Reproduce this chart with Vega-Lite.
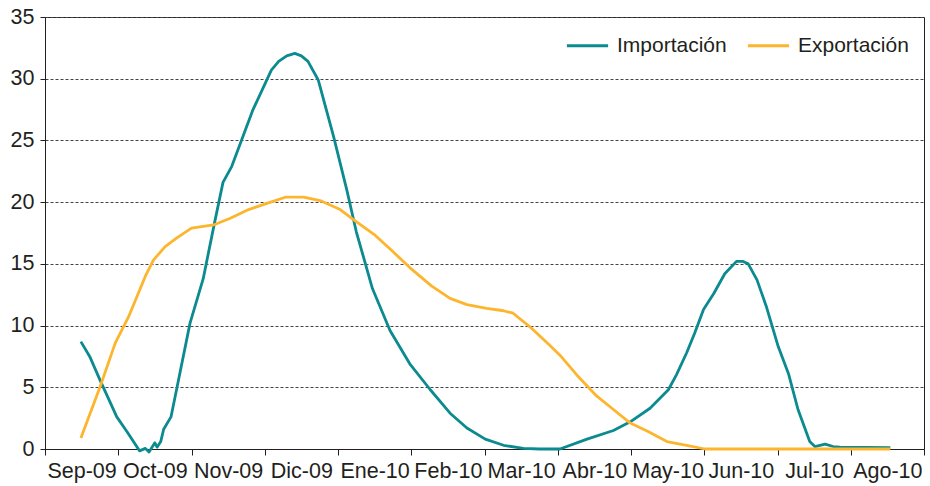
{
  "$schema": "https://vega.github.io/schema/vega-lite/v6.json",
  "width": 879,
  "height": 432,
  "autosize": "none",
  "padding": {"left": 45, "top": 17, "right": 6, "bottom": 37},
  "background": "white",
  "config": {
    "view": {"stroke": "#231F20", "strokeWidth": 1},
    "font": "Liberation Sans"
  },
  "datasets": {
    "series": [
      {"serie": "Importación", "mes": 0.49, "valor": 8.7},
      {"serie": "Importación", "mes": 0.61, "valor": 7.5},
      {"serie": "Importación", "mes": 0.75, "valor": 5.6},
      {"serie": "Importación", "mes": 0.98, "valor": 2.6},
      {"serie": "Importación", "mes": 1.12, "valor": 1.4},
      {"serie": "Importación", "mes": 1.29, "valor": -0.15},
      {"serie": "Importación", "mes": 1.37, "valor": 0.05},
      {"serie": "Importación", "mes": 1.42, "valor": -0.25},
      {"serie": "Importación", "mes": 1.50, "valor": 0.5},
      {"serie": "Importación", "mes": 1.53, "valor": 0.15},
      {"serie": "Importación", "mes": 1.58, "valor": 0.6},
      {"serie": "Importación", "mes": 1.62, "valor": 1.6},
      {"serie": "Importación", "mes": 1.72, "valor": 2.6},
      {"serie": "Importación", "mes": 1.84, "valor": 6.1},
      {"serie": "Importación", "mes": 1.98, "valor": 10.2},
      {"serie": "Importación", "mes": 2.16, "valor": 13.8},
      {"serie": "Importación", "mes": 2.31, "valor": 18.2},
      {"serie": "Importación", "mes": 2.43, "valor": 21.6},
      {"serie": "Importación", "mes": 2.55, "valor": 22.9},
      {"serie": "Importación", "mes": 2.84, "valor": 27.5},
      {"serie": "Importación", "mes": 3.09, "valor": 30.7},
      {"serie": "Importación", "mes": 3.19, "valor": 31.4},
      {"serie": "Importación", "mes": 3.30, "valor": 31.85},
      {"serie": "Importación", "mes": 3.41, "valor": 32.05},
      {"serie": "Importación", "mes": 3.50, "valor": 31.85},
      {"serie": "Importación", "mes": 3.59, "valor": 31.4},
      {"serie": "Importación", "mes": 3.73, "valor": 29.9},
      {"serie": "Importación", "mes": 3.94, "valor": 25.3},
      {"serie": "Importación", "mes": 4.12, "valor": 21.0},
      {"serie": "Importación", "mes": 4.25, "valor": 17.6},
      {"serie": "Importación", "mes": 4.47, "valor": 13.0},
      {"serie": "Importación", "mes": 4.71, "valor": 9.6},
      {"serie": "Importación", "mes": 4.98, "valor": 6.9},
      {"serie": "Importación", "mes": 5.26, "valor": 4.8},
      {"serie": "Importación", "mes": 5.53, "valor": 2.9},
      {"serie": "Importación", "mes": 5.76, "valor": 1.7},
      {"serie": "Importación", "mes": 6.01, "valor": 0.8},
      {"serie": "Importación", "mes": 6.26, "valor": 0.3},
      {"serie": "Importación", "mes": 6.53, "valor": 0.05},
      {"serie": "Importación", "mes": 6.75, "valor": 0},
      {"serie": "Importación", "mes": 7.03, "valor": 0},
      {"serie": "Importación", "mes": 7.40, "valor": 0.8},
      {"serie": "Importación", "mes": 7.76, "valor": 1.5},
      {"serie": "Importación", "mes": 7.99, "valor": 2.2},
      {"serie": "Importación", "mes": 8.26, "valor": 3.3},
      {"serie": "Importación", "mes": 8.51, "valor": 4.8},
      {"serie": "Importación", "mes": 8.62, "valor": 6.0},
      {"serie": "Importación", "mes": 8.76, "valor": 7.8},
      {"serie": "Importación", "mes": 8.87, "valor": 9.4},
      {"serie": "Importación", "mes": 8.99, "valor": 11.3},
      {"serie": "Importación", "mes": 9.13, "valor": 12.6},
      {"serie": "Importación", "mes": 9.28, "valor": 14.2},
      {"serie": "Importación", "mes": 9.44, "valor": 15.2},
      {"serie": "Importación", "mes": 9.53, "valor": 15.2},
      {"serie": "Importación", "mes": 9.60, "valor": 15.0},
      {"serie": "Importación", "mes": 9.72, "valor": 13.7},
      {"serie": "Importación", "mes": 9.85, "valor": 11.5},
      {"serie": "Importación", "mes": 10.01, "valor": 8.3},
      {"serie": "Importación", "mes": 10.15, "valor": 6.1},
      {"serie": "Importación", "mes": 10.28, "valor": 3.2},
      {"serie": "Importación", "mes": 10.44, "valor": 0.6},
      {"serie": "Importación", "mes": 10.51, "valor": 0.2},
      {"serie": "Importación", "mes": 10.65, "valor": 0.4},
      {"serie": "Importación", "mes": 10.76, "valor": 0.2},
      {"serie": "Importación", "mes": 10.85, "valor": 0.15},
      {"serie": "Importación", "mes": 11.54, "valor": 0.1},
      {"serie": "Exportación", "mes": 0.49, "valor": 0.9},
      {"serie": "Exportación", "mes": 0.75, "valor": 5.0},
      {"serie": "Exportación", "mes": 0.96, "valor": 8.6},
      {"serie": "Exportación", "mes": 1.14, "valor": 10.7},
      {"serie": "Exportación", "mes": 1.37, "valor": 14.0},
      {"serie": "Exportación", "mes": 1.48, "valor": 15.3},
      {"serie": "Exportación", "mes": 1.64, "valor": 16.4},
      {"serie": "Exportación", "mes": 1.80, "valor": 17.1},
      {"serie": "Exportación", "mes": 2.00, "valor": 17.9},
      {"serie": "Exportación", "mes": 2.30, "valor": 18.15},
      {"serie": "Exportación", "mes": 2.53, "valor": 18.7},
      {"serie": "Exportación", "mes": 2.78, "valor": 19.4},
      {"serie": "Exportación", "mes": 3.03, "valor": 19.9},
      {"serie": "Exportación", "mes": 3.28, "valor": 20.4},
      {"serie": "Exportación", "mes": 3.53, "valor": 20.4},
      {"serie": "Exportación", "mes": 3.77, "valor": 20.1},
      {"serie": "Exportación", "mes": 4.03, "valor": 19.4},
      {"serie": "Exportación", "mes": 4.23, "valor": 18.5},
      {"serie": "Exportación", "mes": 4.51, "valor": 17.3},
      {"serie": "Exportación", "mes": 4.73, "valor": 16.1},
      {"serie": "Exportación", "mes": 4.98, "valor": 14.7},
      {"serie": "Exportación", "mes": 5.28, "valor": 13.2},
      {"serie": "Exportación", "mes": 5.53, "valor": 12.2},
      {"serie": "Exportación", "mes": 5.76, "valor": 11.7},
      {"serie": "Exportación", "mes": 6.03, "valor": 11.4},
      {"serie": "Exportación", "mes": 6.26, "valor": 11.2},
      {"serie": "Exportación", "mes": 6.39, "valor": 11.0},
      {"serie": "Exportación", "mes": 6.62, "valor": 9.9},
      {"serie": "Exportación", "mes": 6.89, "valor": 8.4},
      {"serie": "Exportación", "mes": 7.03, "valor": 7.6},
      {"serie": "Exportación", "mes": 7.26, "valor": 6.0},
      {"serie": "Exportación", "mes": 7.53, "valor": 4.3},
      {"serie": "Exportación", "mes": 7.76, "valor": 3.2},
      {"serie": "Exportación", "mes": 7.99, "valor": 2.1},
      {"serie": "Exportación", "mes": 8.24, "valor": 1.4},
      {"serie": "Exportación", "mes": 8.49, "valor": 0.6},
      {"serie": "Exportación", "mes": 8.76, "valor": 0.3},
      {"serie": "Exportación", "mes": 9.01, "valor": 0},
      {"serie": "Exportación", "mes": 11.54, "valor": 0}
    ]
  },
  "data": {"name": "series"},
  "mark": {"type": "line", "strokeWidth": 2.8, "strokeJoin": "round", "clip": false},
  "encoding": {
    "x": {
      "field": "mes",
      "type": "quantitative",
      "scale": {"domain": [0, 12], "nice": false, "zero": false},
      "axis": {
        "title": null,
        "values": [0, 1, 2, 3, 4, 5, 6, 7, 8, 9, 10, 11, 12],
        "labelExpr": "['Sep-09','Oct-09','Nov-09','Dic-09','Ene-10','Feb-10','Mar-10','Abr-10','May-10','Jun-10','Jul-10','Ago-10',''][datum.value]",
        "labelOffset": 36.6,
        "labelOverlap": false,
        "labelFlush": false,
        "labelBound": false,
        "labelFontSize": 21.5,
        "labelColor": "#231F20",
        "labelPadding": 5,
        "tickSize": 6,
        "tickColor": "#231F20",
        "domainColor": "#231F20",
        "grid": false
      }
    },
    "y": {
      "field": "valor",
      "type": "quantitative",
      "scale": {"domain": [0, 35], "nice": false},
      "axis": {
        "title": null,
        "values": [0, 5, 10, 15, 20, 25, 30, 35],
        "labelFontSize": 21.5,
        "labelColor": "#231F20",
        "labelPadding": 6,
        "tickSize": 5,
        "tickColor": "#231F20",
        "domainColor": "#231F20",
        "grid": true,
        "gridDash": [3, 2],
        "gridColor": "#444444",
        "gridWidth": 1
      }
    },
    "color": {
      "field": "serie",
      "type": "nominal",
      "scale": {"domain": ["Importación", "Exportación"], "range": ["#0B8A8F", "#FDB52D"]},
      "legend": {
        "title": null,
        "orient": "none",
        "legendX": 520,
        "legendY": 6,
        "direction": "horizontal",
        "symbolType": "stroke",
        "symbolStrokeWidth": 3,
        "symbolSize": 1700,
        "labelFontSize": 21,
        "labelColor": "#231F20",
        "labelOffset": 7,
        "columnPadding": 14,
        "padding": 0
      }
    }
  }
}
